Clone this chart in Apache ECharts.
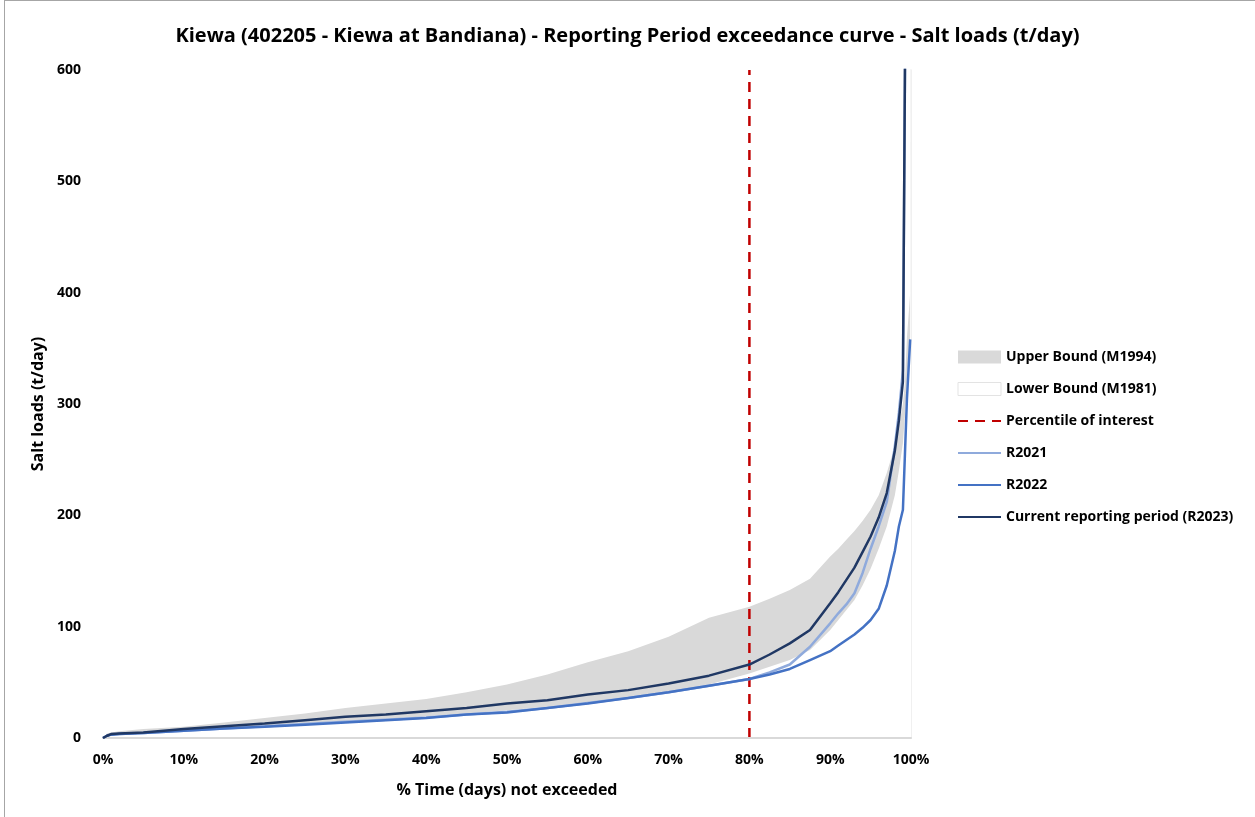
<!DOCTYPE html>
<html>
<head>
<meta charset="utf-8">
<script src="https://cdn.jsdelivr.net/npm/echarts@6/dist/echarts.min.js"></script>
<style>
  html, body { margin: 0; padding: 0; background: #fff; }
  #chart { width: 1255px; height: 817px; }
  #frame { position: absolute; left: 4px; top: 0; width: 1251px; height: 817px;
           border-left: 1px solid #a6a6a6; border-top: 1px solid #a6a6a6; box-sizing: border-box; pointer-events: none; }
</style>
</head>
<body>
<div id="chart"></div>
<div id="frame"></div>
<script>
// % time not exceeded
const pct = [0, 0.5, 1, 2, 5, 10, 15, 20, 25, 30, 35, 40, 45, 50, 55, 60, 65, 70, 75, 80,
  82.5, 85, 87.5, 90, 91, 92, 93, 94, 95, 96, 97, 98, 98.5, 99, 99.25, 99.5, 99.9, 100];

const upperBound = [0, 4, 5, 6, 8, 10, 14, 18, 22, 27, 31, 35, 41, 48, 57, 68, 78, 91, 108, 118,
  125, 133, 143, 163, 170, 178, 186, 195, 205, 218, 238, 262, 280, 300, 320, 360, 400, 2000];
const lowerBound = [0, 2, 3, 3.5, 4.5, 7, 9, 11, 13, 15, 17, 19.5, 22, 25, 28, 32, 37, 42, 48, 58,
  64, 70, 79, 97, 106, 115, 124, 137, 152, 170, 190, 218, 240, 265, 290, 320, 360, 1900];
const r2021 = [0, 2, 3, 3.5, 4.5, 6.5, 8.5, 10.5, 12.5, 14.5, 16.5, 18.5, 21, 23.5, 27, 31.5, 36, 41, 47, 53,
  59, 66, 82, 103, 112, 120, 130, 148, 170, 190, 212, 262, 292, 330, 590, 880, null, null];
const r2022 = [0, 2, 3, 3.5, 4.5, 6.5, 8.5, 10, 12, 14, 16, 18, 21, 23, 27, 31, 36, 41, 47, 53,
  57, 62, 70, 78, 83, 88, 93, 99, 106, 116, 137, 168, 190, 205, 255, 305, 358, null];
const r2023 = [0, 2, 3.5, 4, 5, 8, 10.5, 13, 16, 19, 21, 24, 27, 31, 34, 39, 43, 49, 56, 66,
  75, 85, 97, 121, 131, 142, 153, 167, 181, 198, 220, 258, 285, 320, 600, 900, null, null];

const percentileOfInterest = 80;
const yTicks = { min: 0, max: 600, step: 100 };
const xTicks = { min: 0, max: 100, step: 10 };

const FONT = '"Open Sans", "Liberation Sans", sans-serif';

const pairs = (vals) => pct.map((p, i) => [p, vals[i]]);

const chart = echarts.init(document.getElementById('chart'));

const lineSeries = (name, vals, color, z) => ({
  name,
  type: 'line',
  data: pairs(vals),
  symbol: 'none',
  z,
  lineStyle: { color, width: 2.5 },
  itemStyle: { color }
});

// hide the round marker legend draws for line series
const noDot = { opacity: 0 };

chart.setOption({
  animation: false,
  title: {
    text: 'Kiewa (402205 - Kiewa at Bandiana) - Reporting Period exceedance curve - Salt loads (t/day)',
    left: 'center',
    top: 21,
    textStyle: { fontFamily: FONT, fontSize: 20, fontWeight: 'bold', color: '#000' }
  },
  grid: { left: 103, right: 344, top: 70, bottom: 79 },
  legend: {
    orient: 'vertical',
    left: 952,
    top: 345,
    itemWidth: 43,
    itemHeight: 13,
    itemGap: 18,
    textStyle: { fontFamily: FONT, fontSize: 14, fontWeight: 'bold', color: '#000' },
    data: [
      { name: 'Upper Bound (M1994)', icon: 'rect', itemStyle: { color: '#D9D9D9' } },
      { name: 'Lower Bound (M1981)', icon: 'rect', itemStyle: { color: '#FFFFFF', borderColor: '#E3E3E3', borderWidth: 1 } },
      { name: 'Percentile of interest', itemStyle: noDot },
      { name: 'R2021', itemStyle: noDot },
      { name: 'R2022', itemStyle: noDot },
      { name: 'Current reporting period (R2023)', itemStyle: noDot }
    ]
  },
  xAxis: {
    type: 'value',
    min: xTicks.min,
    max: xTicks.max,
    interval: xTicks.step,
    z: 5,
    name: '% Time (days) not exceeded',
    nameLocation: 'middle',
    nameGap: 44,
    nameTextStyle: { fontFamily: FONT, fontSize: 16, fontWeight: 'bold', color: '#000' },
    axisLine: { show: true, lineStyle: { color: '#D9D9D9', width: 2 } },
    axisTick: { show: false },
    splitLine: { show: false },
    axisLabel: {
      formatter: '{value}%',
      margin: 15,
      fontFamily: FONT, fontSize: 14, fontWeight: 'bold', color: '#000'
    }
  },
  yAxis: [{
    type: 'value',
    min: yTicks.min,
    max: yTicks.max,
    interval: yTicks.step,
    name: 'Salt loads (t/day)',
    nameLocation: 'middle',
    nameGap: 52,
    nameTextStyle: { fontFamily: FONT, fontSize: 16, fontWeight: 'bold', color: '#000' },
    axisLine: { show: false },
    axisTick: { show: false },
    splitLine: { show: false },
    axisLabel: { margin: 22, align: 'right', fontFamily: FONT, fontSize: 14, fontWeight: 'bold', color: '#000' }
  }, {
    type: 'value',
    position: 'right',
    min: yTicks.min,
    max: yTicks.max,
    axisLine: { show: true, lineStyle: { color: '#EBEBEB', width: 1.5 } },
    axisTick: { show: false },
    axisLabel: { show: false },
    splitLine: { show: false }
  }],
  series: [
    {
      // gray fill down to zero, then masked below the lower bound
      name: 'Upper Bound (M1994)',
      type: 'line',
      data: pairs(upperBound),
      symbol: 'none',
      z: 1,
      color: '#D9D9D9',
      lineStyle: { width: 0, opacity: 0 },
      areaStyle: { color: '#D9D9D9', opacity: 1 }
    },
    {
      name: 'Lower Bound (M1981)',
      type: 'line',
      data: pairs(lowerBound),
      symbol: 'none',
      z: 1,
      color: '#FFFFFF',
      lineStyle: { width: 0, opacity: 0 },
      areaStyle: { color: '#FFFFFF', opacity: 1 }
    },
    {
      name: 'Percentile of interest',
      type: 'line',
      data: [[percentileOfInterest, yTicks.min], [percentileOfInterest, yTicks.max]],
      symbol: 'none',
      z: 3,
      color: '#C00000',
      lineStyle: { color: '#C00000', width: 2.5, type: [10, 7] }
    },
    lineSeries('R2021', r2021, '#8FAADC', 4),
    lineSeries('R2022', r2022, '#4472C4', 5),
    lineSeries('Current reporting period (R2023)', r2023, '#203864', 6)
  ]
});
</script>
</body>
</html>
